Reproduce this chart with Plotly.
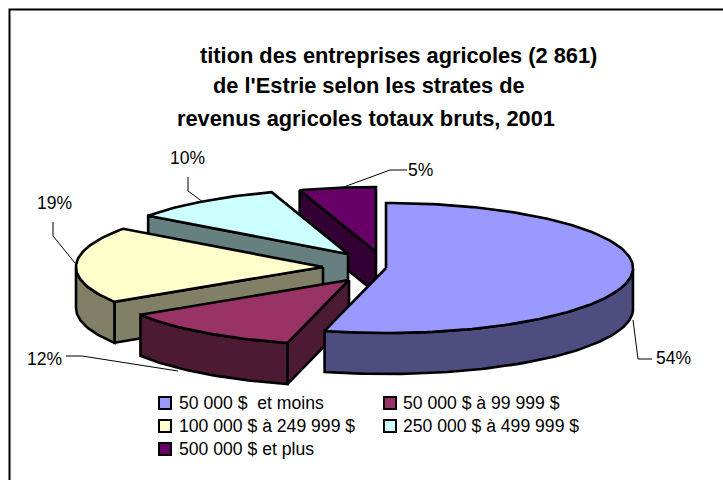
import math
import plotly.graph_objects as go

categories = ["50 000 $  et moins", "50 000 $ à 99 999 $", "100 000 $ à 249 999 $",
              "250 000 $ à 499 999 $", "500 000 $ et plus"]
shares = [54, 12, 19, 10, 5]
top_colors = ["#9999FF", "#993366", "#FFFFCC", "#CCFFFF", "#660066"]
side_colors = ["#4D4D80", "#4D1A33", "#808066", "#668080", "#330033"]
apex_x = [386, 349, 323, 348, 376]
apex_y = [268, 280, 267, 254, 252]
RX, RY, DEPTH = 247, 65, 41
LW = 2.6

title_lines = ["tition des entreprises agricoles (2 861)",
               "de l'Estrie selon les strates de",
               "revenus agricoles totaux bruts, 2001"]
title_pos = [(398, 55), (369, 85), (366, 118)]
label_pos = [(673, 358), (44, 359), (54, 203), (187, 158), (420, 170)]
leaders = ["M633,320 L638,359 L652,359", "M66,356 L82,356 L178,371",
           "M53,222 L53,236 L75,263", "M188,177 L188,191 L203,202", "M341,188 L390,170 L407,170"]
legend_swatch_x = [165, 390, 165, 390, 165]
legend_text_x = [177, 401, 177, 401, 177]
legend_y = [403, 403, 426, 426, 449]

fig = go.Figure()


def poly(xs, ys, color):
    fig.add_trace(go.Scatter(x=xs, y=ys, mode="lines", fill="toself", fillcolor=color,
                             line=dict(color="black", width=LW), hoverinfo="skip",
                             showlegend=False))


def rim(i, t):
    return apex_x[i] + RX * math.sin(t), apex_y[i] - RY * math.cos(t)


starts, acc = [], 0
for s in shares:
    starts.append(acc)
    acc += s

for i in reversed(range(len(shares))):
    t0 = starts[i] / 100 * 2 * math.pi
    t1 = (starts[i] + shares[i]) / 100 * 2 * math.pi
    n = max(8, int(shares[i] * 3))
    ts = [t0 + (t1 - t0) * k / n for k in range(n + 1)]
    ax, ay = apex_x[i], apex_y[i]
    mx, my = rim(i, (t0 + t1) / 2)
    for t in (t0, t1):
        rx, ry = rim(i, t)
        if abs(rx - ax) < 1e-6:
            continue
        # a cut face shows when the slice lies above that edge on screen
        edge_y = ay + (ry - ay) * (mx - ax) / (rx - ax)
        if my < edge_y:
            poly([ax, rx, rx, ax, ax], [ay, ry, ry + DEPTH, ay + DEPTH, ay], side_colors[i])
    front = [t for t in ts if math.cos(t) <= 0]
    if len(front) > 1:
        pts = [rim(i, t) for t in front]
        poly([p[0] for p in pts] + [p[0] for p in reversed(pts)] + [pts[0][0]],
             [p[1] for p in pts] + [p[1] + DEPTH for p in reversed(pts)] + [pts[0][1]],
             side_colors[i])
    pts = [rim(i, t) for t in ts]
    poly([ax] + [p[0] for p in pts] + [ax], [ay] + [p[1] for p in pts] + [ay], top_colors[i])

ann = []
for name, c, sx, tx, y in zip(categories, top_colors, legend_swatch_x, legend_text_x, legend_y):
    fig.add_trace(go.Scatter(x=[sx], y=[y], mode="markers", name=name, showlegend=False,
                             hoverinfo="name",
                             marker=dict(symbol="square", size=12, color=c,
                                         line=dict(color="black", width=2))))
    ann.append(dict(x=tx, y=y, text=name.replace("  ", "\u00a0 "), showarrow=False,
                    xanchor="left", yanchor="middle",
                    font=dict(family="Liberation Sans", size=17.6, color="black")))

for line, (x, y) in zip(title_lines, title_pos):
    ann.append(dict(x=x, y=y, text=f"<b>{line}</b>", showarrow=False, xanchor="center", yanchor="middle",
                    font=dict(family="Liberation Sans", size=21.8, color="black")))
for s, (x, y) in zip(shares, label_pos):
    ann.append(dict(x=x, y=y, text=f"{s}%", showarrow=False, xanchor="center", yanchor="middle",
                    font=dict(family="Liberation Sans", size=17.5, color="black")))

shapes = [dict(type="path", path=p, line=dict(color="black", width=1)) for p in leaders]
shapes.append(dict(type="path", path="M9.5,480 L9.5,9.5 L723,9.5", line=dict(color="black", width=2)))

fig.update_layout(
    width=723, height=480, margin=dict(l=0, r=0, t=0, b=0, autoexpand=False), autosize=False,
    paper_bgcolor="white", plot_bgcolor="white", showlegend=False,
    xaxis=dict(range=[0, 723], visible=False, fixedrange=True),
    yaxis=dict(range=[480, 0], visible=False, fixedrange=True),
    annotations=ann, shapes=shapes,
)
fig.write_html("out.html", config=dict(displayModeBar=False),
               post_script="document.body.style.margin='0';document.body.style.overflow='hidden';")
